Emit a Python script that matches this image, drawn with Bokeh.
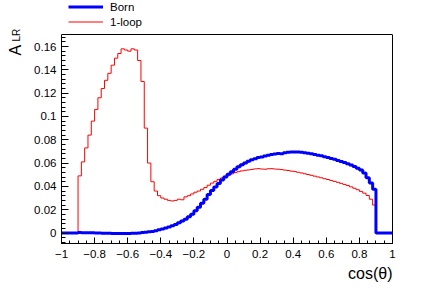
import numpy as np
from math import pi
from bokeh.plotting import figure
from bokeh.models import (Range1d, FixedTicker, Label, Legend, LegendItem,
                          LinearAxis, Span)
from bokeh.embed import file_html
from bokeh.resources import INLINE

# ---- histogram definition (100 bins from -1 to 1) ----
bin_lo, bin_hi, n_bins = -1.0, 1.0, 100

born = [
    0.0, 0.0, 0.0, 0.0, 0.0,
    0.0004, 0.0003, 0.0003, 0.0002, 0.0002, 0.0001, 0.0, -0.0001, -0.0002, -0.0003,
    -0.0004, -0.0004, -0.0005, -0.0005, -0.0005, -0.0004, -0.0003, -0.0001, 0.0001, 0.0004,
    0.0007, 0.0010, 0.0014, 0.0020, 0.0027, 0.0034, 0.0042, 0.0052, 0.0062, 0.0074,
    0.0087, 0.0102, 0.0119, 0.0139, 0.0162, 0.0190, 0.0220, 0.0255, 0.0290, 0.0330,
    0.0365, 0.0395, 0.0425, 0.0455, 0.0480, 0.0505, 0.0525, 0.0548, 0.0568, 0.0585,
    0.0600, 0.0615, 0.0628, 0.0638, 0.0647, 0.0652, 0.0660, 0.0667, 0.0673, 0.0678,
    0.0683, 0.0680, 0.0688, 0.0692, 0.0694, 0.0695, 0.0694, 0.0692, 0.0689, 0.0685,
    0.0680, 0.0674, 0.0668, 0.0662, 0.0655, 0.0648, 0.0640, 0.0632, 0.0623, 0.0614,
    0.0604, 0.0594, 0.0583, 0.0570, 0.0556, 0.0540, 0.0515, 0.0475, 0.0430, 0.0375,
    0.0, 0.0, 0.0, 0.0, 0.0,
]

one_loop = [
    0.0, 0.0, 0.0, 0.0, 0.0,
    0.049, 0.061, 0.073, 0.084, 0.096, 0.106, 0.116, 0.124, 0.131, 0.137,
    0.144, 0.150, 0.154, 0.158, 0.157, 0.156, 0.158, 0.157, 0.148, 0.130,
    0.090, 0.060, 0.044, 0.036, 0.032, 0.030, 0.029, 0.028, 0.0275, 0.028,
    0.029, 0.0285, 0.031, 0.032, 0.0335, 0.035, 0.036, 0.0375, 0.039, 0.041,
    0.0428, 0.0443, 0.0460, 0.0472, 0.0487, 0.0498, 0.0508, 0.0518, 0.0526, 0.0533,
    0.0538, 0.0541, 0.0545, 0.0550, 0.0552, 0.0549, 0.0547, 0.0551, 0.0552, 0.0549,
    0.0547, 0.0544, 0.0540, 0.0536, 0.0531, 0.0527, 0.0521, 0.0515, 0.0508, 0.0502,
    0.0495, 0.0488, 0.0481, 0.0474, 0.0466, 0.0459, 0.0451, 0.0443, 0.0435, 0.0426,
    0.0417, 0.0407, 0.0396, 0.0384, 0.0371, 0.0357, 0.0342, 0.0322, 0.0290, 0.0240,
    0.0, 0.0, 0.0, 0.0, 0.0,
]

series_names = ["Born", "1-loop"]

x_ticks = [-1.0, -0.8, -0.6, -0.4, -0.2, 0.0, 0.2, 0.4, 0.6, 0.8, 1.0]
x_tick_labels = ["\u22121", "\u22120.8", "\u22120.6", "\u22120.4", "\u22120.2", "0",
                 "0.2", "0.4", "0.6", "0.8", "1"]
y_ticks = [0.0, 0.02, 0.04, 0.06, 0.08, 0.1, 0.12, 0.14, 0.16]
y_tick_labels = ["0", "0.02", "0.04", "0.06", "0.08", "0.1", "0.12", "0.14", "0.16"]

x_title = "cos(\u03b8)"
y_title_main = "A"
y_title_sub = "LR"

# axis limits of the visible frame
x_lo, x_hi = -1.0, 1.0
y_lo, y_hi = -0.009, 0.1703

# ---- layout (pixels) ----
W, H = 436, 287
frame_left, frame_right, frame_top, frame_bottom = 61, 392, 34, 243
# the plotting area is extended up to the canvas top so the legend can live there
y_top = y_hi + frame_top * (y_hi - y_lo) / (frame_bottom - frame_top)

edges = np.linspace(bin_lo, bin_hi, n_bins + 1)


def step_xy(vals):
    xs = np.repeat(edges, 2)[1:-1]
    ys = np.repeat(np.asarray(vals, dtype=float), 2)
    return xs, ys


FONT = "Liberation Sans"

p = figure(width=W, height=H,
           x_range=Range1d(x_lo, x_hi), y_range=Range1d(y_lo, y_top),
           output_backend="svg", toolbar_location=None,
           min_border_left=frame_left, min_border_right=W - frame_right,
           min_border_top=0, min_border_bottom=H - frame_bottom)
p.xgrid.visible = False
p.ygrid.visible = False
p.background_fill_color = "white"
p.border_fill_color = "white"
p.outline_line_color = None

xr, yr = step_xy(one_loop)
red = p.line(xr, yr, line_color="#ff0000", line_width=1)
xb, yb = step_xy(born)
blue = p.line(xb, yb, line_color="#0000ff", line_width=3)

x_minor = [round(v, 2) for v in np.arange(-1.0, 1.0001, 0.05)]
y_minor = [round(v, 3) for v in np.arange(-0.008, 0.1701, 0.004)]

xa = p.xaxis[0]
ya = p.yaxis[0]
xa.ticker = FixedTicker(ticks=x_ticks, minor_ticks=x_minor)
ya.ticker = FixedTicker(ticks=y_ticks, minor_ticks=y_minor)
ya.bounds = (y_lo, y_hi)
xa.major_label_overrides = dict(zip(x_ticks, x_tick_labels))
ya.major_label_overrides = dict(zip(y_ticks, y_tick_labels))
for ax in (xa, ya):
    ax.axis_line_color = "black"
    ax.major_tick_line_color = "black"
    ax.minor_tick_line_color = "black"
    ax.major_tick_out = 0
    ax.minor_tick_out = 0
    ax.major_label_text_font = FONT
    ax.major_label_text_font_size = "11.5px"
    ax.major_label_text_color = "black"
xa.major_label_standoff = 6
ya.major_label_standoff = 5
xa.major_tick_in = 6
xa.minor_tick_in = 3
ya.major_tick_in = 7
ya.minor_tick_in = 4

# right edge of the frame box (an axis without ticks or labels)
ra = LinearAxis(ticker=FixedTicker(ticks=[], minor_ticks=[]), bounds=(y_lo, y_hi),
                major_label_text_font_size="0px", major_tick_out=0, minor_tick_out=0,
                axis_line_color="black")
p.add_layout(ra, "right")
# top edge of the frame box
p.add_layout(Span(location=y_hi, dimension="width", line_color="black", line_width=1))

# ---- legend (inside the extended plotting area, above the box) ----
leg = Legend(items=[LegendItem(label=series_names[0], renderers=[blue]),
                    LegendItem(label=series_names[1], renderers=[red])],
             location=(7, 215), glyph_width=35, glyph_height=13, label_height=13,
             label_standoff=7, padding=0, margin=0, spacing=2,
             border_line_alpha=0, background_fill_alpha=0,
             label_text_font=FONT, label_text_font_size="11.5px",
             label_text_color="black")
p.add_layout(leg)

# ---- axis titles (canvas units, in side panels so they are not clipped) ----
p.add_layout(Label(x=392, y=273, x_units="canvas", y_units="canvas", text=x_title,
                   text_align="right", text_baseline="alphabetic",
                   text_font=FONT, text_font_size="16px", text_color="black"), "below")
p.add_layout(Label(x=15, y=55, x_units="canvas", y_units="canvas", text=y_title_main,
                   angle=pi / 2, text_align="left", text_baseline="alphabetic",
                   text_font=FONT, text_font_size="16px", text_color="black"), "right")
p.add_layout(Label(x=16, y=41, x_units="canvas", y_units="canvas", text=y_title_sub,
                   angle=pi / 2, text_align="left", text_baseline="alphabetic",
                   text_font=FONT, text_font_size="10px", text_color="black"), "right")

open("out.html", "w").write(file_html(p, INLINE))
